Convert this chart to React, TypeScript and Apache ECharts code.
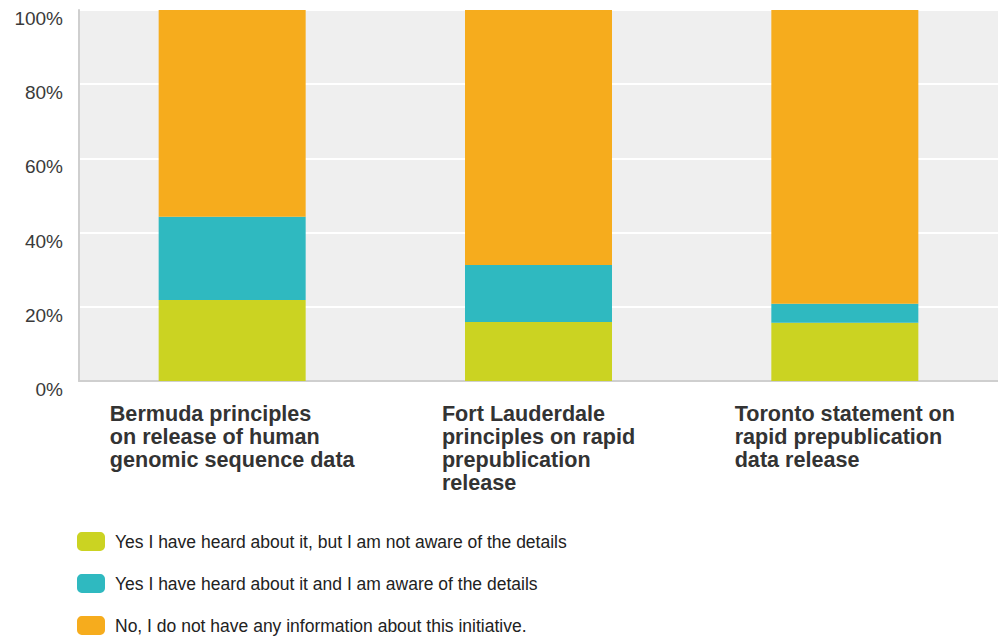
import React, { useEffect, useRef } from "react";
import * as echarts from "echarts";

const categories = [
  "Bermuda principles\non release of human\ngenomic sequence data",
  "Fort Lauderdale\nprinciples on rapid\nprepublication\nrelease",
  "Toronto statement on\nrapid prepublication\ndata release",
];
const seriesNames = [
  "Yes I have heard about it, but I am not aware of the details",
  "Yes I have heard about it and I am aware of the details",
  "No, I do not have any information about this initiative.",
];
const heardNoDetails = [21.8, 15.9, 15.7];
const heardWithDetails = [22.5, 15.4, 5.1];
const noInformation = [55.7, 68.7, 79.2];
const colors = ["#cbd322", "#2fb9c0", "#f6ac1d"];

export default function App() {
  const ref = useRef<HTMLDivElement>(null);
  useEffect(() => {
    if (!ref.current) return;
    const chart = echarts.init(ref.current, undefined, { renderer: "svg" });
    const values = [heardNoDetails, heardWithDetails, noInformation];
    chart.setOption({
      animation: false,
      color: colors,
      grid: {
        left: 79,
        top: 10,
        right: -6,
        bottom: 261,
        show: true,
        backgroundColor: "#efefef",
        borderWidth: 0,
      },
      legend: {
        orient: "vertical",
        left: 77,
        top: 532,
        padding: 0,
        height: 110,
        itemWidth: 28,
        itemHeight: 19,
        itemGap: 23,
        icon: "roundRect",
        selectedMode: false,
        textStyle: {
          fontFamily: "Liberation Sans",
          fontSize: 17.5,
          color: "#222",
          padding: [0, 0, 0, 5],
        },
        data: seriesNames,
      },
      xAxis: {
        type: "category",
        data: categories,
        axisLine: { show: true, lineStyle: { color: "#cfcfcf", width: 2 } },
        axisTick: { show: false },
        splitLine: { show: false },
        axisLabel: {
          interval: 0,
          margin: 21,
          formatter: (v: string) =>
            v
              .split("\n")
              .map((l) => `{a|${l}}`)
              .join("\n"),
          rich: {
            a: {
              align: "left",
              fontFamily: "Liberation Sans",
              fontWeight: "bold",
              fontSize: 21.6,
              lineHeight: 23,
              color: "#333",
            },
          },
        },
      },
      yAxis: {
        type: "value",
        min: 0,
        max: 100,
        interval: 20,
        axisLine: { show: true, lineStyle: { color: "#cfcfcf", width: 2 } },
        axisTick: { show: false },
        splitLine: { show: true, lineStyle: { color: "#ffffff", width: 2 } },
        axisLabel: {
          formatter: "{value}%",
          margin: 16,
          fontFamily: "Liberation Sans",
          fontSize: 19,
          lineHeight: 17,
          verticalAlign: "top",
          color: "#3a3a3a",
        },
      },
      series: seriesNames.map((name, i) => ({
        name,
        type: "bar",
        stack: "total",
        barWidth: 147,
        data: values[i],
        itemStyle: { color: colors[i] },
      })),
    });
    return () => chart.dispose();
  }, []);
  return (
    <div
      ref={ref}
      style={{ width: 998, height: 642, position: "absolute", left: 0, top: 0 }}
    />
  );
}
